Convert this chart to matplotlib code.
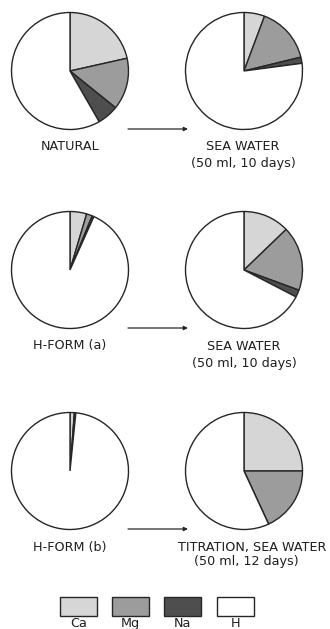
import matplotlib
matplotlib.use("Agg")
import matplotlib.pyplot as plt

# Exchangeable cation composition (percent of total), clockwise from 12 o'clock
ions = ["Ca", "Mg", "Na", "H"]
natural = [21.5, 14.3, 5.9, 58.3]
natural_sea = [5.7, 15.5, 1.7, 77.1]
hform_a = [4.6, 1.6, 0.5, 93.3]
hform_a_sea = [12.8, 17.8, 2.0, 67.4]
hform_b = [1.2, 0.4, 0.0, 98.4]
hform_b_titration = [25.0, 18.1, 0.0, 56.9]

left_labels = ["NATURAL", "H-FORM (a)", "H-FORM (b)"]
right_labels = [("SEA WATER", "(50 ml, 10 days)"),
                ("SEA WATER", "(50 ml, 10 days)"),
                ("TITRATION, SEA WATER", "(50 ml, 12 days)")]

fill = ["#d6d6d6", "#9c9c9c", "#4e4e4e", "#ffffff"]
edge = "#262626"

W, H = 330, 629
fig = plt.figure(figsize=(W / 100, H / 100), dpi=100)
ax = fig.add_axes([0, 0, 1, 1])

R = 58.5
rows = [(natural, natural_sea, 71), (hform_a, hform_a_sea, 270),
        (hform_b, hform_b_titration, 471)]
lx, rx = 70, 244
# horizontal centres of the two lines of each right-hand caption
right_text_x = [(243, 243), (244, 244), (252, 246)]
right_text_dy = [(76, 92), (76, 93), (76, 91)]


def draw_pie(values, cx, cy):
    ax.pie(values, colors=fill, startangle=90, counterclock=False,
           center=(cx, H - cy), radius=R, frame=True,
           wedgeprops=dict(edgecolor=edge, linewidth=1.0))


font = dict(family="DejaVu Sans", fontsize=9.2, color="#1e1e1e")

for i, (left, right, cy) in enumerate(rows):
    draw_pie(left, lx, cy)
    draw_pie(right, rx, cy)
    ay = H - (cy + 58)
    ax.annotate("", xy=(188, ay), xytext=(128, ay),
                arrowprops=dict(arrowstyle="-|>", color=edge, lw=0.9,
                                mutation_scale=6, shrinkA=0, shrinkB=0))
    ax.text(lx, H - (cy + 76), left_labels[i], ha="center", va="center", **font)
    for line, x, dy in zip(right_labels[i], right_text_x[i], right_text_dy[i]):
        ax.text(x, H - (cy + dy), line, ha="center", va="center", **font)

ax.set_xlim(0, W)
ax.set_ylim(0, H)
ax.set_aspect("equal")
ax.axis("off")

# legend swatches
box_x = [60, 112, 164, 217]
for x0, c, name in zip(box_x, fill, ions):
    ax.add_patch(plt.Rectangle((x0, H - 616), 37, 19, facecolor=c,
                               edgecolor=edge, linewidth=1.0))
    ax.text(x0 + 18.5, H - 627, name, ha="center", va="baseline", **font)

fig.savefig("out.png", dpi=100)
